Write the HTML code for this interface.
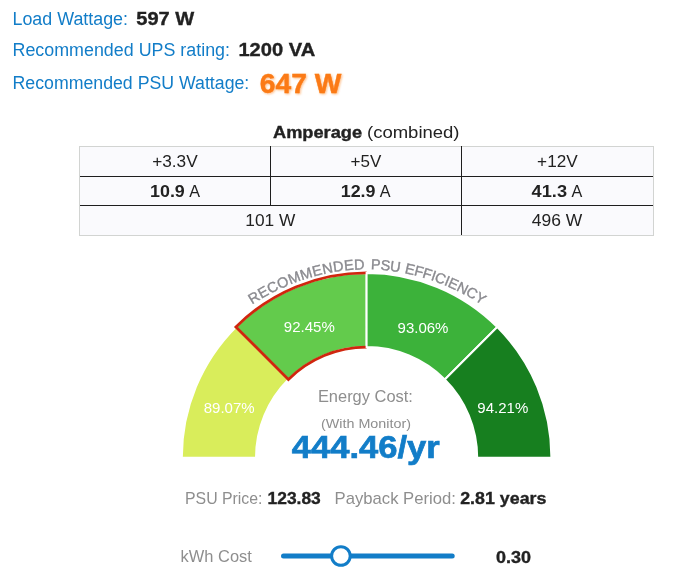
<!DOCTYPE html>
<html lang="en">
<head>
<meta charset="utf-8">
<title>PSU Calculator Result</title>
<style>
html,body{margin:0;padding:0;background:#fff;}
body{width:685px;height:585px;overflow:hidden;position:relative;font-family:"Liberation Sans",sans-serif;}
svg{position:absolute;left:0;top:0;display:block;}
text{font-family:"Liberation Sans",sans-serif;}
.b{font-weight:bold;}
.dk.b{stroke:#222;stroke-width:0.35px;}
.blue{fill:#127dc8;}
.dk{fill:#222;}
.gr{fill:#8e8e8e;}
.blue.b{stroke:#127dc8;stroke-width:0.7px;}
.arc{fill:#8a8a8f;stroke:#8a8a8f;stroke-width:0.35px;filter:url(#soft);}
</style>
</head>
<body>
<svg width="685" height="585" viewBox="0 0 685 585">
<defs>
<filter id="glow" x="-10%" y="-20%" width="120%" height="150%"><feGaussianBlur in="SourceGraphic" stdDeviation="1.2" result="b"/><feOffset in="b" dx="0.5" dy="0.6" result="o"/><feComponentTransfer in="o" result="g"><feFuncA type="linear" slope="0.5"/></feComponentTransfer><feMerge><feMergeNode in="g"/><feMergeNode in="SourceGraphic"/></feMerge></filter>
<filter id="soft" x="-5%" y="-5%" width="110%" height="110%"><feGaussianBlur stdDeviation="0.45"/></filter>
<path id="arc" d="M 238.14 313.93 L 240.86 311.96 L 243.61 310.02 L 246.37 308.13 L 249.15 306.27 L 251.95 304.46 L 254.78 302.69 L 257.62 300.95 L 260.47 299.26 L 263.35 297.61 L 266.25 296.01 L 269.16 294.44 L 272.10 292.92 L 275.05 291.44 L 278.02 290.00 L 281.00 288.61 L 284.01 287.26 L 287.03 285.95 L 290.06 284.70 L 293.12 283.48 L 296.18 282.31 L 299.27 281.19 L 302.37 280.12 L 305.48 279.09 L 308.61 278.12 L 311.75 277.19 L 314.90 276.31 L 318.07 275.48 L 321.25 274.70 L 324.44 273.97 L 327.64 273.29 L 330.85 272.66 L 334.06 272.08 L 337.29 271.56 L 340.53 271.09 L 343.77 270.67 L 347.02 270.31 L 350.28 270.00 L 353.53 269.75 L 356.80 269.55 L 360.06 269.41 L 363.33 269.33 L 366.60 269.30 L 369.87 269.33 L 373.14 269.41 L 376.40 269.55 L 379.67 269.75 L 382.92 270.00 L 386.18 270.31 L 389.43 270.67 L 392.67 271.09 L 395.91 271.56 L 399.14 272.08 L 402.35 272.66 L 405.56 273.29 L 408.76 273.97 L 411.95 274.70 L 415.13 275.48 L 418.30 276.31 L 421.45 277.19 L 424.59 278.12 L 427.72 279.09 L 430.83 280.12 L 433.93 281.19 L 437.02 282.31 L 440.08 283.48 L 443.14 284.70 L 446.17 285.95 L 449.19 287.26 L 452.20 288.61 L 455.18 290.00 L 458.15 291.44 L 461.10 292.92 L 464.04 294.44 L 466.95 296.01 L 469.85 297.61 L 472.73 299.26 L 475.58 300.95 L 478.42 302.69 L 481.25 304.46 L 484.05 306.27 L 486.83 308.13 L 489.59 310.02 L 492.34 311.96 L 495.06 313.93"/>
</defs>

<!-- top summary -->
<text x="12.5" y="25.2" font-size="18" class="blue" textLength="115.5" lengthAdjust="spacingAndGlyphs">Load Wattage:</text>
<text x="136.3" y="25.4" font-size="18.4" class="b dk" textLength="58" lengthAdjust="spacingAndGlyphs">597 W</text>
<text x="12.5" y="56" font-size="18" class="blue" textLength="217.5" lengthAdjust="spacingAndGlyphs">Recommended UPS rating:</text>
<text x="238.4" y="56.4" font-size="18.4" class="b dk" textLength="76.8" lengthAdjust="spacingAndGlyphs">1200 VA</text>
<text x="12.5" y="89" font-size="18" class="blue" textLength="236.8" lengthAdjust="spacingAndGlyphs">Recommended PSU Wattage:</text>
<text x="259.8" y="93" font-size="28" class="b" fill="#fb7a14" stroke="#fb7a14" stroke-width="0.4" filter="url(#glow)" textLength="81.5" lengthAdjust="spacingAndGlyphs">647 W</text>

<!-- table -->
<text x="273" y="138.2" font-size="16" class="b dk" textLength="89" lengthAdjust="spacingAndGlyphs">Amperage</text>
<text x="367" y="138.2" font-size="16" class="dk" textLength="92.5" lengthAdjust="spacingAndGlyphs">(combined)</text>
<rect x="79.5" y="146.5" width="574" height="89" fill="#fafafd" stroke="#d2d4d2" stroke-width="1"/>
<g stroke="#1e1e1e" stroke-width="1" shape-rendering="crispEdges">
<line x1="80" y1="176.5" x2="653" y2="176.5"/>
<line x1="80" y1="205.5" x2="653" y2="205.5"/>
<line x1="270.5" y1="146" x2="270.5" y2="206"/>
<line x1="461.5" y1="146" x2="461.5" y2="235"/>
</g>
<g font-size="16" class="dk" lengthAdjust="spacingAndGlyphs">
<text x="152.2" y="167.1" textLength="45.5" lengthAdjust="spacingAndGlyphs">+3.3V</text>
<text x="350.6" y="167.1" textLength="30.7" lengthAdjust="spacingAndGlyphs">+5V</text>
<text x="537.1" y="167.1" textLength="40.6" lengthAdjust="spacingAndGlyphs">+12V</text>
<text x="150" y="197.2" class="b" textLength="34.8" lengthAdjust="spacingAndGlyphs">10.9</text>
<text x="189.2" y="197.2" textLength="10.8" lengthAdjust="spacingAndGlyphs">A</text>
<text x="340.7" y="197.2" class="b" textLength="34.8" lengthAdjust="spacingAndGlyphs">12.9</text>
<text x="379.8" y="197.2" textLength="10.8" lengthAdjust="spacingAndGlyphs">A</text>
<text x="531.6" y="197.2" class="b" textLength="35.4" lengthAdjust="spacingAndGlyphs">41.3</text>
<text x="571.5" y="197.2" textLength="10.8" lengthAdjust="spacingAndGlyphs">A</text>
<text x="245.3" y="226.4" textLength="50" lengthAdjust="spacingAndGlyphs">101 W</text>
<text x="531.8" y="226.4" textLength="50.5" lengthAdjust="spacingAndGlyphs">496 W</text>
</g>

<!-- gauge -->
<g id="gauge" stroke="#fff" stroke-width="2" stroke-linejoin="miter">
<path fill="#d9ed5b" d="M 181.80 457.70 A 184.8 184.8 0 0 1 235.93 327.03 L 288.39 379.49 A 110.6 110.6 0 0 0 256.00 457.70 Z"/>
<path fill="#63cb4c" d="M 235.93 327.03 A 184.8 184.8 0 0 1 366.60 272.90 L 366.60 347.10 A 110.6 110.6 0 0 0 288.39 379.49 Z"/>
<path fill="none" stroke="#d0260e" stroke-width="2.8" d="M 366.60 347.10 A 110.6 110.6 0 0 0 288.39 379.49 L 235.93 327.03 A 184.8 184.8 0 0 1 366.60 272.90"/>
<path fill="#3cb23a" d="M 366.60 272.90 A 184.8 184.8 0 0 1 497.27 327.03 L 444.81 379.49 A 110.6 110.6 0 0 0 366.60 347.10 Z"/>
<path fill="#177f1f" d="M 497.27 327.03 A 184.8 184.8 0 0 1 551.40 457.70 L 477.20 457.70 A 110.6 110.6 0 0 0 444.81 379.49 Z"/>
</g>
<text font-size="14.5" class="arc"><textPath href="#arc" startOffset="16.8" textLength="119.7" lengthAdjust="spacing">RECOMMENDED</textPath></text>
<text font-size="14.5" class="arc"><textPath href="#arc" startOffset="142.5" textLength="29.3" lengthAdjust="spacing">PSU</textPath></text>
<text font-size="14.5" class="arc"><textPath href="#arc" startOffset="176.1" textLength="84.8" lengthAdjust="spacing">EFFICIENCY</textPath></text>

<g font-size="15" fill="#fff" text-anchor="middle">
<text x="229.2" y="412.5">89.07%</text>
<text x="309.3" y="332.2">92.45%</text>
<text x="423" y="333">93.06%</text>
<text x="502.8" y="412.8">94.21%</text>
</g>

<text x="365.4" y="402" font-size="16.6" class="gr" text-anchor="middle" textLength="95" lengthAdjust="spacingAndGlyphs">Energy Cost:</text>
<text x="366" y="428.3" font-size="12" class="gr" text-anchor="middle" textLength="90" lengthAdjust="spacingAndGlyphs">(With Monitor)</text>
<text x="291.8" y="457.8" font-size="32" class="b blue" textLength="148" lengthAdjust="spacingAndGlyphs">444.46/yr</text>

<!-- bottom -->
<text x="185" y="503.6" font-size="16.6" class="gr" textLength="77.5" lengthAdjust="spacingAndGlyphs">PSU Price:</text>
<text x="267.6" y="503.8" font-size="17.2" class="b dk" textLength="53.2" lengthAdjust="spacingAndGlyphs">123.83</text>
<text x="334.6" y="503.6" font-size="16.6" class="gr" textLength="121.3" lengthAdjust="spacingAndGlyphs">Payback Period:</text>
<text x="460.2" y="503.8" font-size="17.2" class="b dk" textLength="86.2" lengthAdjust="spacingAndGlyphs">2.81 years</text>

<text x="180.6" y="561.8" font-size="16.6" class="gr" textLength="71.2" lengthAdjust="spacingAndGlyphs">kWh Cost</text>
<line x1="283.5" y1="556" x2="452.2" y2="556" stroke="#127dc8" stroke-width="5" stroke-linecap="round"/>
<circle cx="340.9" cy="556" r="9.3" fill="#fff" stroke="#127dc8" stroke-width="3"/>
<text x="496.1" y="562.6" font-size="17.2" class="b dk" textLength="35" lengthAdjust="spacingAndGlyphs">0.30</text>
</svg>
</body>
</html>
